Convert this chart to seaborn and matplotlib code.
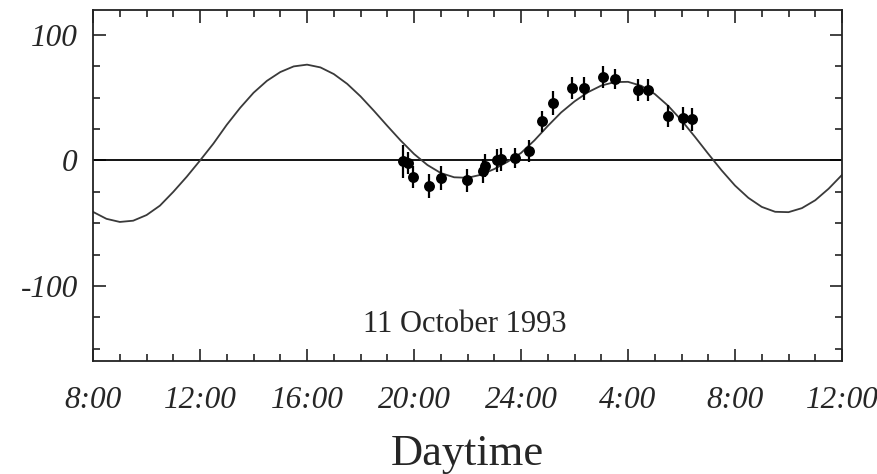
import seaborn as sns
import matplotlib.pyplot as plt
import pandas as pd
from matplotlib.ticker import MultipleLocator

# Curva do modelo (horas desde 0:00 do dia 11)
curve_h = [8.0, 8.5, 9.0, 9.5, 10.0, 10.5, 11.0, 11.5, 12.0, 12.5, 13.0, 13.5,
           14.0, 14.5, 15.0, 15.5, 16.0, 16.5, 17.0, 17.5, 18.0, 18.5, 19.0,
           19.5, 20.0, 20.5, 21.0, 21.5, 22.0, 22.5, 23.0, 23.5, 24.0, 24.5,
           25.0, 25.5, 26.0, 26.5, 27.0, 27.5, 28.0, 28.5, 29.0, 29.5, 30.0,
           30.5, 31.0, 31.5, 32.0, 32.5, 33.0, 33.5, 34.0, 34.5, 35.0, 35.5, 36.0]
curve_v = [-41, -46.5, -49, -48, -43.5, -36, -25, -13, 0, 13.5, 28.5, 42,
           54, 63.5, 70.5, 75, 76.4, 74.2, 68.9, 61.1, 51.1, 39.6, 27.6,
           15.9, 5.2, -3.6, -10, -13.4, -13.8, -11.4, -6.8, -1, 6, 16,
           27.5, 38.3, 47.1, 54.4, 59.7, 62.5, 62.7, 59.5, 53, 43.6, 32,
           18.9, 5.3, -7.9, -20, -29.8, -37, -40.9, -41.2, -38, -31.7, -22.5, -11.5]

# Medidas com barras de erro
obs_h = [19.58, 19.79, 19.95, 20.57, 21.0, 21.97, 22.57, 22.65, 23.09, 23.25,
         23.78, 24.31, 24.77, 25.18, 25.9, 26.37, 27.05, 27.51, 28.39, 28.73,
         29.5, 30.04, 30.38]
obs_v = [-0.8, -2, -13, -20.6, -14, -15.9, -8.7, -4, 0, 0.8,
         2.1, 7.4, 31.2, 46, 57.7, 57.4, 66.7, 65.3, 56.3, 56.3,
         35.4, 33.6, 32.8]
obs_err = [13, 9, 9, 9.5, 9.5, 9.5, 9.5, 9, 9, 9,
           8, 9, 8.5, 9.5, 9, 9, 9, 8, 9, 9,
           9, 9, 9]

tick_pos = [8, 12, 16, 20, 24, 28, 32, 36]
tick_lab = ['8:00', '12:00', '16:00', '20:00', '24:00', '4:00', '8:00', '12:00']
ytick_pos = [-100, 0, 100]
ytick_lab = ['-100', '0', '100']

curve = pd.DataFrame({'h': curve_h, 'v': curve_v})
obs = pd.DataFrame({'h': obs_h, 'v': obs_v, 'err': obs_err})

sns.set_style('ticks')
plt.rcParams['font.family'] = ['Liberation Serif', 'DejaVu Serif']

fig = plt.figure(figsize=(8.78, 4.74), dpi=100)
ax = fig.add_axes([0.106, 0.238, 0.853, 0.741])

ax.axhline(0, color='black', lw=1.3, zorder=1)
sns.lineplot(data=curve, x='h', y='v', ax=ax, color='#3a3a3a', lw=1.3,
             estimator=None, sort=True, zorder=2)
ax.errorbar(obs['h'], obs['v'], yerr=obs['err'], fmt='none', ecolor='black',
            elinewidth=1.6, capsize=0, zorder=3)
sns.scatterplot(data=obs, x='h', y='v', ax=ax, color='black', s=62,
                edgecolor='black', linewidth=0, zorder=4)

ax.set_xlim(8, 36)
ax.set_ylim(-160, 120)
ax.set_xticks(tick_pos)
ax.set_xticklabels(tick_lab)
ax.set_yticks(ytick_pos)
ax.set_yticklabels(ytick_lab)
ax.xaxis.set_minor_locator(MultipleLocator(1))
ax.yaxis.set_minor_locator(MultipleLocator(25))

ax.tick_params(which='both', direction='in', top=True, right=True,
               width=1.2, color='#222222')
ax.tick_params(which='major', length=9)
ax.tick_params(which='minor', length=5)
ax.tick_params(axis='x', which='major', pad=18, labelsize=22.5)
ax.tick_params(axis='y', which='major', pad=11, labelsize=22.5)
for lab in ax.get_xticklabels() + ax.get_yticklabels():
    lab.set_fontstyle('italic')

for sp in ax.spines.values():
    sp.set_linewidth(1.3)
    sp.set_color('#222222')

ax.set_xlabel('')
ax.set_ylabel('')
ax.text(21.9, -137, '11 October 1993', fontsize=22, ha='center',
        va='baseline')
fig.text(0.532, 0.019, 'Daytime', fontsize=32, ha='center', va='baseline')

fig.savefig('out.png', dpi=100)
